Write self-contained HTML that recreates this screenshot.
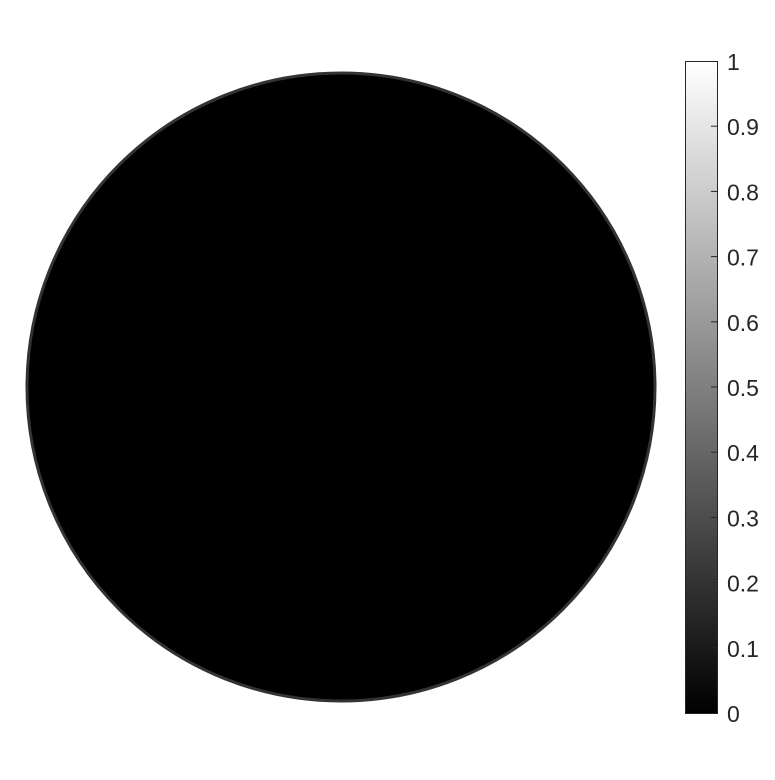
<!DOCTYPE html>
<html><head><meta charset="utf-8"><style>
body{margin:0;background:#fff;width:775px;height:775px;overflow:hidden}
svg{font-family:"Liberation Sans",sans-serif}
</style></head><body>
<svg width="775" height="775">
<defs><linearGradient id="g" x1="0" y1="1" x2="0" y2="0"><stop offset="0" stop-color="#000"/><stop offset="1" stop-color="#fff"/></linearGradient></defs>
<circle cx="341" cy="387" r="314" fill="#000" stroke="#333" stroke-width="3"/>
<rect x="685.5" y="61.5" width="32" height="652" fill="url(#g)" stroke="#262626" stroke-width="1"/>
<g id="ticks"></g>
</svg>
<script>
const tickValues=[0,0.1,0.2,0.3,0.4,0.5,0.6,0.7,0.8,0.9,1];
const tickLabels=["0","0.1","0.2","0.3","0.4","0.5","0.6","0.7","0.8","0.9","1"];
const y=v=>713-v*652;
const g=document.getElementById('ticks');
const ns='http://www.w3.org/2000/svg';
tickValues.forEach((v,i)=>{
  if(v>0&&v<1){
    const l=document.createElementNS(ns,'line');
    
    
    l.setAttribute('x1',711);l.setAttribute('x2',717.5);
    l.setAttribute('y1',y(v));l.setAttribute('y2',y(v));
    l.setAttribute('stroke','#262626');
    g.appendChild(l);
  }
  const t=document.createElementNS(ns,'text');
  
  
  t.setAttribute('x',727);t.setAttribute('y',y(v)+9);
  t.setAttribute('font-size','23');t.setAttribute('fill','#262626');
  t.textContent=tickLabels[i];
  g.appendChild(t);
});
</script>
</body></html>
